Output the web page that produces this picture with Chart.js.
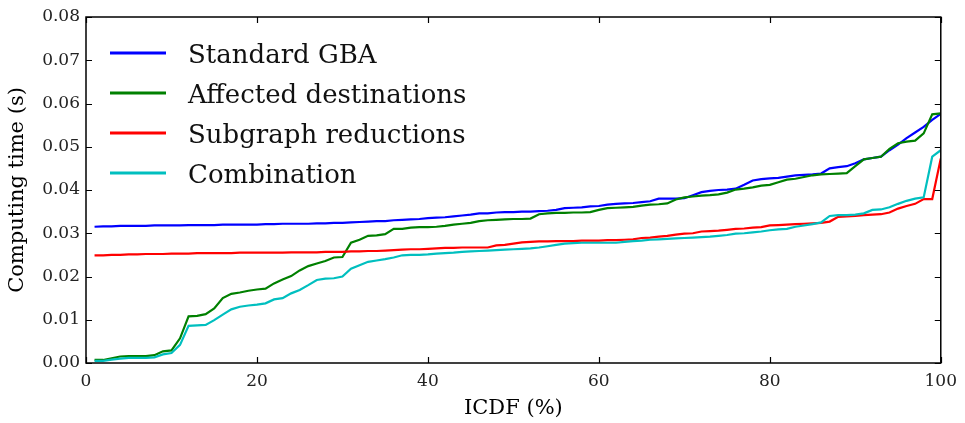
<!DOCTYPE html>
<html>
<head>
<meta charset="utf-8">
<script src="https://cdn.jsdelivr.net/npm/chart.js@4.4.1/dist/chart.umd.min.js"></script>
<style>
  html, body { margin: 0; padding: 0; background: #fff; }
  #wrap { width: 965px; height: 423px; }
</style>
</head>
<body>
<div id="wrap"><canvas id="myChart"></canvas></div>
<script>
// ICDF percentiles 1..100
const percents = [];
for (let i = 1; i <= 100; i++) percents.push(i);

const standardGBA = [
  0.0315, 0.0316, 0.0316, 0.0317, 0.0317, 0.0317, 0.0317, 0.0318, 0.0318, 0.0318,
  0.0318, 0.0319, 0.0319, 0.0319, 0.0319, 0.0320, 0.0320, 0.0320, 0.0320, 0.0320,
  0.0321, 0.0321, 0.0322, 0.0322, 0.0322, 0.0322, 0.0323, 0.0323, 0.0324, 0.0324,
  0.0325, 0.0326, 0.0327, 0.0328, 0.0328, 0.0330, 0.0331, 0.0332, 0.0333, 0.0335,
  0.0336, 0.0337, 0.0339, 0.0341, 0.0343, 0.0346, 0.0346, 0.0348, 0.0349, 0.0349,
  0.0350, 0.0350, 0.0351, 0.0352, 0.0354, 0.0358, 0.0359, 0.0360, 0.0362, 0.0363,
  0.0366, 0.0368, 0.0369, 0.0370, 0.0372, 0.0374, 0.0380, 0.0380, 0.0380, 0.0381,
  0.0388, 0.0395, 0.0398, 0.0400, 0.0401, 0.0403, 0.0412, 0.0422, 0.0425, 0.0427,
  0.0428, 0.0431, 0.0434, 0.0435, 0.0436, 0.0438, 0.0450, 0.0453, 0.0455, 0.0462,
  0.0471, 0.0474, 0.0477, 0.0492, 0.0505, 0.0520, 0.0533, 0.0546, 0.0562, 0.0576
];

const affectedDest = [
  0.0007, 0.0007, 0.0011, 0.0015, 0.0016, 0.0016, 0.0016, 0.0018, 0.0027, 0.0029,
  0.0057, 0.0108, 0.0109, 0.0113, 0.0126, 0.0150, 0.0160, 0.0163, 0.0167, 0.0170,
  0.0172, 0.0184, 0.0193, 0.0201, 0.0214, 0.0224, 0.0230, 0.0236, 0.0244, 0.0245,
  0.0278, 0.0285, 0.0294, 0.0295, 0.0298, 0.0310, 0.0310, 0.0313, 0.0314, 0.0314,
  0.0315, 0.0317, 0.0320, 0.0322, 0.0324, 0.0328, 0.0330, 0.0331, 0.0332, 0.0333,
  0.0333, 0.0334, 0.0344, 0.0346, 0.0347, 0.0347, 0.0348, 0.0348, 0.0349, 0.0354,
  0.0358, 0.0359, 0.0360, 0.0361, 0.0364, 0.0366, 0.0367, 0.0369, 0.0378, 0.0383,
  0.0385, 0.0387, 0.0388, 0.0390, 0.0394, 0.0401, 0.0403, 0.0406, 0.0410, 0.0412,
  0.0418, 0.0424, 0.0426, 0.0430, 0.0434, 0.0436, 0.0437, 0.0438, 0.0439, 0.0455,
  0.0471, 0.0474, 0.0477, 0.0495, 0.0508, 0.0512, 0.0514, 0.0531, 0.0575, 0.0577
];

const subgraphRed = [
  0.0249, 0.0249, 0.0250, 0.0250, 0.0251, 0.0251, 0.0252, 0.0252, 0.0252, 0.0253,
  0.0253, 0.0253, 0.0254, 0.0254, 0.0254, 0.0254, 0.0254, 0.0255, 0.0255, 0.0255,
  0.0255, 0.0255, 0.0255, 0.0256, 0.0256, 0.0256, 0.0256, 0.0257, 0.0257, 0.0257,
  0.0258, 0.0258, 0.0259, 0.0259, 0.0260, 0.0261, 0.0262, 0.0263, 0.0263, 0.0264,
  0.0265, 0.0266, 0.0266, 0.0267, 0.0267, 0.0267, 0.0267, 0.0272, 0.0273, 0.0276,
  0.0279, 0.0280, 0.0281, 0.0281, 0.0282, 0.0282, 0.0282, 0.0283, 0.0283, 0.0283,
  0.0284, 0.0284, 0.0285, 0.0286, 0.0289, 0.0290, 0.0292, 0.0294, 0.0297, 0.0299,
  0.0300, 0.0304, 0.0305, 0.0306, 0.0308, 0.0310, 0.0311, 0.0313, 0.0314, 0.0318,
  0.0319, 0.0320, 0.0321, 0.0322, 0.0323, 0.0324, 0.0327, 0.0338, 0.0339, 0.0340,
  0.0342, 0.0343, 0.0344, 0.0348, 0.0357, 0.0363, 0.0368, 0.0379, 0.0379, 0.0473
];

const combination = [
  0.0005, 0.0005, 0.0008, 0.0010, 0.0012, 0.0012, 0.0012, 0.0013, 0.0020, 0.0023,
  0.0042, 0.0086, 0.0087, 0.0088, 0.0099, 0.0112, 0.0124, 0.0130, 0.0133, 0.0135,
  0.0138, 0.0147, 0.0150, 0.0161, 0.0169, 0.0180, 0.0192, 0.0195, 0.0196, 0.0200,
  0.0218, 0.0226, 0.0234, 0.0237, 0.0240, 0.0244, 0.0249, 0.0250, 0.0250, 0.0251,
  0.0253, 0.0254, 0.0255, 0.0257, 0.0258, 0.0259, 0.0260, 0.0261, 0.0262, 0.0263,
  0.0264, 0.0265, 0.0267, 0.0270, 0.0273, 0.0276, 0.0277, 0.0278, 0.0278, 0.0278,
  0.0278, 0.0278, 0.0280, 0.0282, 0.0283, 0.0285, 0.0286, 0.0287, 0.0288, 0.0289,
  0.0290, 0.0291, 0.0292, 0.0294, 0.0296, 0.0299, 0.0300, 0.0302, 0.0304, 0.0307,
  0.0309, 0.0310, 0.0315, 0.0318, 0.0321, 0.0325, 0.0340, 0.0342, 0.0342, 0.0343,
  0.0346, 0.0354, 0.0355, 0.0360, 0.0368, 0.0375, 0.0380, 0.0383, 0.0477, 0.0492
];

const seriesNames = ["Standard GBA", "Affected destinations", "Subgraph reductions", "Combination"];
const seriesColors = ["#0000ff", "#008000", "#ff0000", "#00bfbf"];
const seriesValues = [standardGBA, affectedDest, subgraphRed, combination];

const FONT = "'DejaVu Serif', serif";

function makeDataset(i) {
    return {
        label: seriesNames[i],
        data: percents.map((p, k) => ({ x: p, y: seriesValues[i][k] })),
        borderColor: seriesColors[i],
        borderWidth: 2.2,
        pointRadius: 0,
        tension: 0,
        fill: false,
        // matplotlib draws later series on top
        order: 4 - i
    };
}

// frame + inward ticks on all four sides
const frameTicks = {
    id: "frameTicks",
    afterDatasetsDraw(chart) {
        const ctx = chart.ctx;
        const a = chart.chartArea;
        const xs = chart.scales.x, ys = chart.scales.y;
        const len = 6;
        ctx.save();
        ctx.strokeStyle = "#000";
        ctx.lineWidth = 1.2;
        ctx.beginPath();
        xs.ticks.forEach(t => {
            const px = Math.round(xs.getPixelForValue(t.value)) + 0.5;
            ctx.moveTo(px, a.bottom); ctx.lineTo(px, a.bottom - len);
            ctx.moveTo(px, a.top); ctx.lineTo(px, a.top + len);
        });
        ys.ticks.forEach(t => {
            const py = Math.round(ys.getPixelForValue(t.value)) + 0.5;
            ctx.moveTo(a.left, py); ctx.lineTo(a.left + len, py);
            ctx.moveTo(a.right, py); ctx.lineTo(a.right - len, py);
        });
        ctx.stroke();
        ctx.lineWidth = 1.5;
        ctx.strokeRect(a.left, a.top, a.right - a.left, a.bottom - a.top);
        ctx.restore();
    }
};

// legend inside the axes, top-left, like matplotlib
const innerLegend = {
    id: "innerLegend",
    afterDraw(chart) {
        const ctx = chart.ctx;
        const a = chart.chartArea;
        ctx.save();
        ctx.font = "26px " + FONT;
        ctx.textBaseline = "alphabetic";
        chart.data.datasets.forEach((ds, i) => {
            const y = a.top + 36 + i * 40;
            ctx.strokeStyle = ds.borderColor;
            ctx.lineWidth = 3;
            ctx.beginPath();
            ctx.moveTo(a.left + 24, y);
            ctx.lineTo(a.left + 80, y);
            ctx.stroke();
            ctx.fillStyle = "#111";
            ctx.fillText(ds.label, a.left + 102, y + 10);
        });
        ctx.restore();
    }
};

new Chart("myChart", {
    type: "line",
    data: {
        datasets: [0, 1, 2, 3].map(makeDataset)
    },
    options: {
        responsive: true,
        maintainAspectRatio: false,
        animation: false,
        layout: { padding: { top: 17, right: 21, left: 0, bottom: 0 } },
        plugins: {
            legend: { display: false },
            tooltip: { enabled: false }
        },
        scales: {
            x: {
                type: "linear",
                min: 0,
                max: 100,
                ticks: {
                    stepSize: 20,
                    padding: 8,
                    color: "#222",
                    font: { family: FONT, size: 17 },
                    maxRotation: 0
                },
                grid: { display: false, drawTicks: false },
                border: { display: false },
                title: {
                    display: true,
                    text: "ICDF (%)",
                    color: "#000",
                    font: { family: FONT, size: 21 },
                    padding: { top: 0, bottom: 2 }
                },
                afterFit(scale) { scale.height = 60; }
            },
            y: {
                min: 0,
                max: 0.08,
                ticks: {
                    stepSize: 0.01,
                    padding: 6,
                    color: "#222",
                    font: { family: FONT, size: 17 },
                    callback: v => v.toFixed(2)
                },
                grid: { display: false, drawTicks: false },
                border: { display: false },
                title: {
                    display: true,
                    text: "Computing time (s)",
                    color: "#000",
                    font: { family: FONT, size: 21 },
                    padding: { top: 5, bottom: 0 }
                },
                afterFit(scale) { scale.width = 86; }
            }
        }
    },
    plugins: [frameTicks, innerLegend]
});
</script>
</body>
</html>
